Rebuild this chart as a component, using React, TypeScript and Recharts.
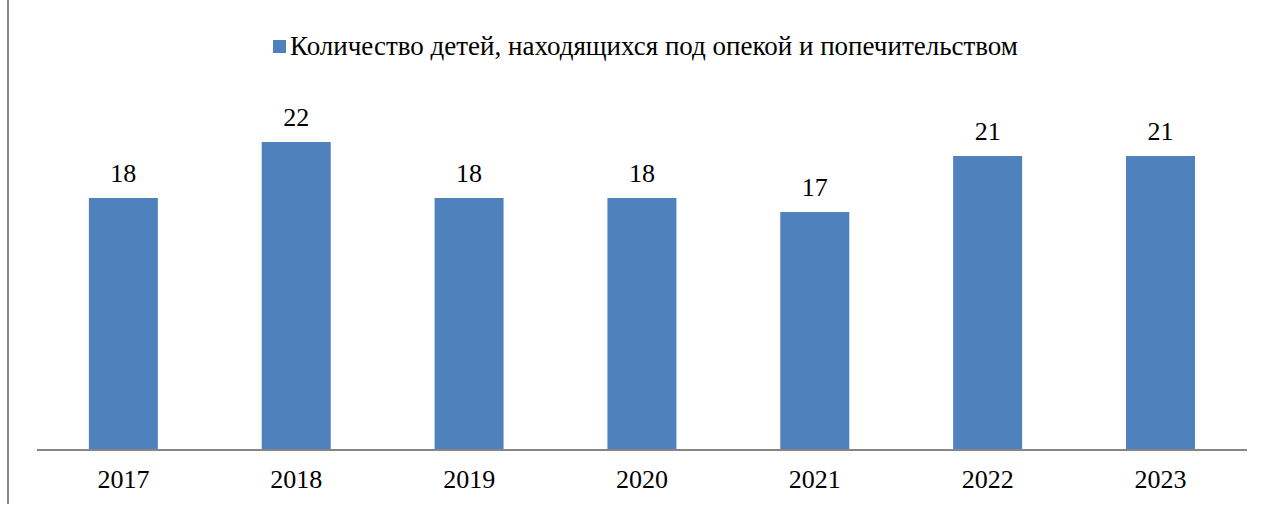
import { Bar, BarChart, LabelList, Legend, XAxis, YAxis } from "recharts"

const years = ["2017", "2018", "2019", "2020", "2021", "2022", "2023"]
const children = [18, 22, 18, 18, 17, 21, 21]
const seriesName = "Количество детей, находящихся под опекой и попечительством"

const data = years.map((year, i) => ({ year, value: children[i] }))

const font = "'Liberation Serif', 'Times New Roman', serif"

function TopLegend() {
  return (
    <div style={{ position: "relative", height: 0 }}>
      <div
        style={{
          position: "absolute",
          top: 31,
          left: 273,
          display: "flex",
          alignItems: "center",
          fontFamily: font,
          fontSize: 27,
          color: "#000",
          whiteSpace: "nowrap",
        }}
      >
        <span style={{ width: 13, height: 13, background: "#4F81BD", marginRight: 4, display: "inline-block" }} />
        <span>{seriesName}</span>
      </div>
    </div>
  )
}

export default function App() {
  return (
    <div style={{ position: "absolute", left: 0, top: 0, width: 1262, height: 506, background: "#fff" }}>
      {/* left edge of the chart frame */}
      <div style={{ position: "absolute", left: 7, top: 0, width: 2, height: 504, background: "#888888" }} />
      <BarChart
        width={1262}
        height={506}
        data={data}
        margin={{ top: 100, right: 15, left: 37, bottom: 0 }}
        barCategoryGap="30%"
      >
        <Legend verticalAlign="top" align="left" wrapperStyle={{ top: 0, left: 0, width: 1262 }} content={<TopLegend />} />
        <XAxis
          dataKey="year"
          height={56}
          tickLine={false}
          axisLine={{ stroke: "#868686", strokeWidth: 2 }}
          tickMargin={14}
          tick={{ fontFamily: font, fontSize: 26, fill: "#000" }}
        />
        <YAxis hide domain={[0, 25]} />
        <Bar dataKey="value" fill="#4F81BD" isAnimationActive={false}>
          <LabelList dataKey="value" position="top" offset={16} style={{ fontFamily: font, fontSize: 26, fill: "#000" }} />
        </Bar>
      </BarChart>
    </div>
  )
}
